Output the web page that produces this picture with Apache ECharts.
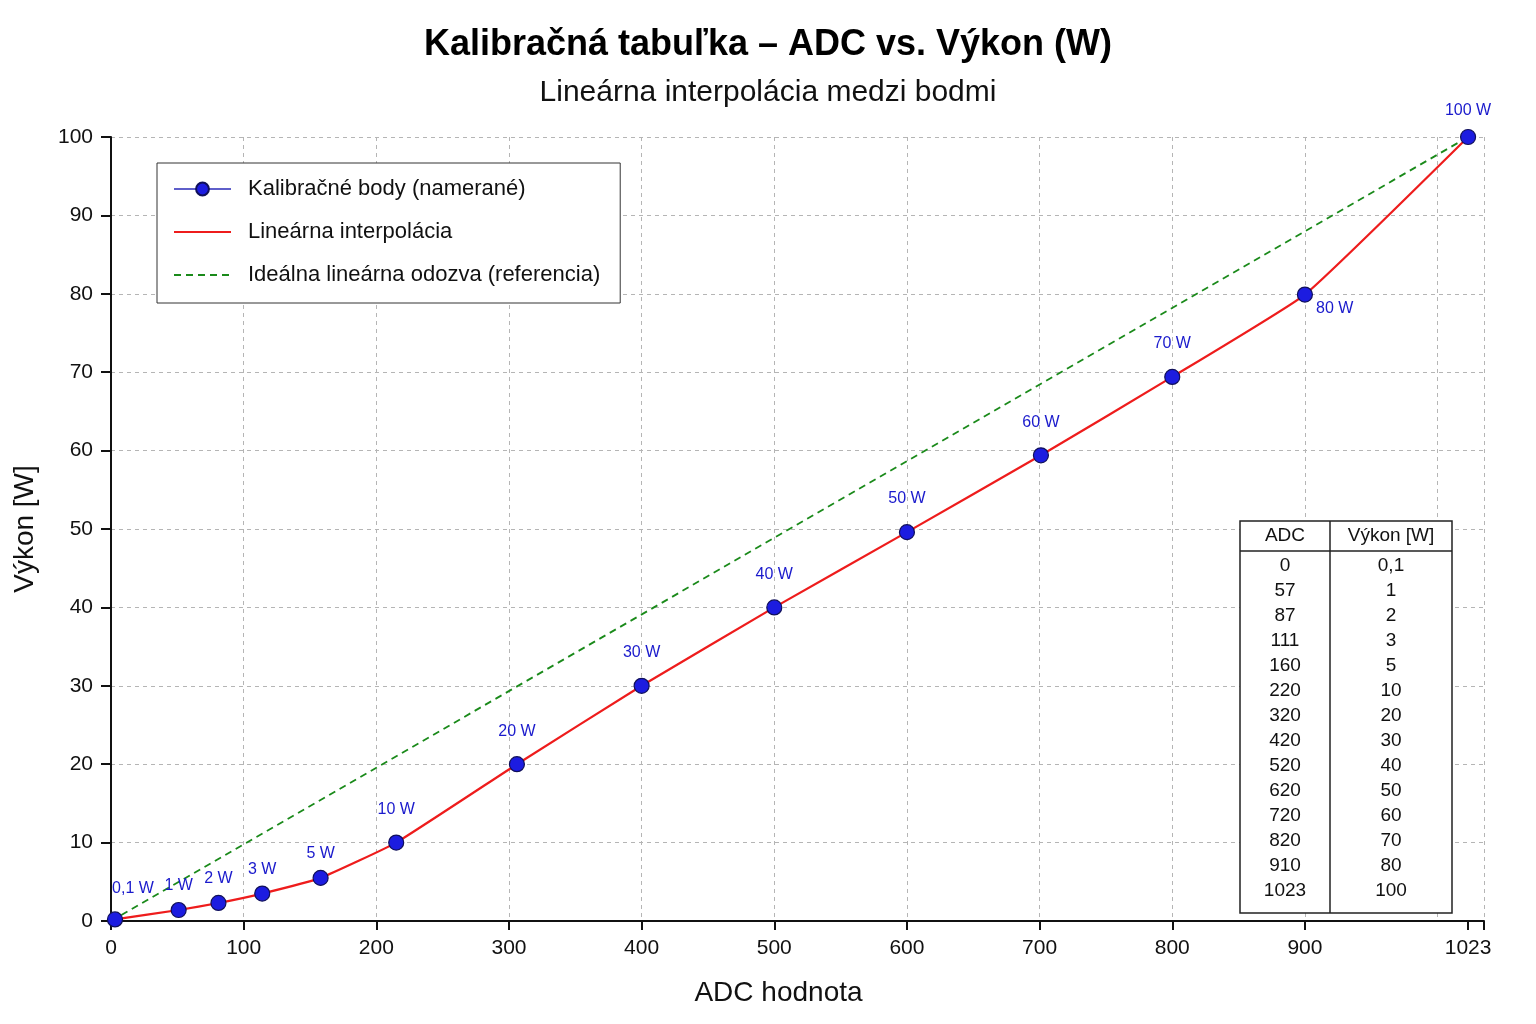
<!DOCTYPE html>
<html>
<head>
<meta charset="utf-8">
<title>Kalibračná tabuľka</title>
<script src="https://cdn.jsdelivr.net/npm/echarts@6/dist/echarts.min.js"></script>
<style>
html, body { margin: 0; padding: 0; background: #fff; }
#chart { width: 1536px; height: 1024px; }
</style>
</head>
<body>
<div id="chart"></div>
<script>
// namerane body (odcitane z grafu)
var adcPoints = [3, 51, 81, 114, 158, 215, 306, 400, 500, 600, 701, 800, 900, 1023];
var powerPoints = [0.2, 1.4, 2.3, 3.5, 5.5, 10, 20, 30, 40, 49.6, 59.4, 69.4, 79.9, 100];

// kalibracna tabulka
var tableAdc = [0, 57, 87, 111, 160, 220, 320, 420, 520, 620, 720, 820, 910, 1023];
var tableW = [0.1, 1, 2, 3, 5, 10, 20, 30, 40, 50, 60, 70, 80, 100];

// idealna odozva
var idealAdc = [0, 1023];
var idealW = [0, 100];

var xLabelValues = [0, 100, 200, 300, 400, 500, 600, 700, 800, 900, 1023];

var FONT = '"Liberation Sans", Arial, sans-serif';

var chart = echarts.init(document.getElementById('chart'));

function fmtW(v) {
	return String(v).replace('.', ',') + ' W';
}

// popisky bodov
function labelFor(i) {
	var lbl = {
		show : true,
		position : 'top',
		color : '#1a1acc',
		fontSize : 16,
		fontFamily : FONT,
		formatter : fmtW(tableW[i])
	};
	if (i == 0) {
		lbl.distance = 15;
		lbl.offset = [ 18, 0 ];
	} else if (i < 5) {
		lbl.distance = 8;
	} else if (i == 12) {
		lbl.position = 'right';
		lbl.distance = 3;
		lbl.offset = [ 0, 14 ];
	} else if (i == 13) {
		lbl.distance = 10;
	} else {
		lbl.distance = 17;
	}
	return lbl;
}

var pointData = [], lineData = [], idealData = [];
for (var i = 0; i < adcPoints.length; i++) {
	pointData.push({
		value : [ adcPoints[i], powerPoints[i] ],
		label : labelFor(i)
	});
	lineData.push([ adcPoints[i], powerPoints[i] ]);
}
for (var j = 0; j < idealAdc.length; j++) {
	idealData.push([ idealAdc[j], idealW[j] ]);
}

// tabulka vpravo dole
var tbl = { left : 1240, top : 521, right : 1452, sep : 1330, headH : 30, rowH : 25 };
var tblBottom = tbl.top + tbl.headH + tableAdc.length * tbl.rowH + 12;
var cellFont = '19px ' + FONT;
var tableEls = [ {
	type : 'rect',
	shape : { x : tbl.left, y : tbl.top, width : tbl.right - tbl.left, height : tblBottom - tbl.top },
	style : { fill : '#fff', stroke : '#222', lineWidth : 1.5 },
	z : 10
}, {
	type : 'line',
	shape : { x1 : tbl.sep, y1 : tbl.top, x2 : tbl.sep, y2 : tblBottom },
	style : { stroke : '#222', lineWidth : 1.5 },
	z : 11
}, {
	type : 'line',
	shape : { x1 : tbl.left, y1 : tbl.top + tbl.headH, x2 : tbl.right, y2 : tbl.top + tbl.headH },
	style : { stroke : '#222', lineWidth : 1.5 },
	z : 11
}, {
	type : 'text',
	x : (tbl.left + tbl.sep) / 2,
	y : tbl.top + tbl.headH / 2,
	style : { text : 'ADC', fill : '#111', font : cellFont, align : 'center', verticalAlign : 'middle' },
	z : 11
}, {
	type : 'text',
	x : (tbl.sep + tbl.right) / 2,
	y : tbl.top + tbl.headH / 2,
	style : { text : 'Výkon [W]', fill : '#111', font : cellFont, align : 'center', verticalAlign : 'middle' },
	z : 11
} ];
for (var k = 0; k < tableAdc.length; k++) {
	var cy = tbl.top + tbl.headH + 15 + k * tbl.rowH;
	tableEls.push({
		type : 'text',
		x : (tbl.left + tbl.sep) / 2,
		y : cy,
		style : { text : String(tableAdc[k]), fill : '#111', font : cellFont, align : 'center', verticalAlign : 'middle' },
		z : 11
	});
	tableEls.push({
		type : 'text',
		x : (tbl.sep + tbl.right) / 2,
		y : cy,
		style : { text : String(tableW[k]).replace('.', ','), fill : '#111', font : cellFont, align : 'center', verticalAlign : 'middle' },
		z : 11
	});
}

var gridLine = {
	show : true,
	lineStyle : { color : '#b5b5b5', width : 1, type : [ 4, 4 ] }
};

chart.setOption({
	backgroundColor : '#fff',
	animation : false,
	textStyle : { fontFamily : FONT },
	title : [ {
		text : 'Kalibračná tabuľka – ADC vs. Výkon (W)',
		left : 'center',
		top : 25,
		padding : 0,
		textStyle : { fontSize : 36, fontWeight : 'bold', color : '#000', fontFamily : FONT, lineHeight : 40 }
	}, {
		text : 'Lineárna interpolácia medzi bodmi',
		left : 'center',
		top : 76,
		padding : 0,
		textStyle : { fontSize : 30, fontWeight : 'normal', color : '#111', fontFamily : FONT, lineHeight : 34 }
	} ],
	legend : {
		left : 157,
		top : 163,
		orient : 'vertical',
		backgroundColor : '#fff',
		borderColor : '#333',
		borderWidth : 1,
		borderRadius : 0,
		padding : [ 14, 20, 16, 16 ],
		itemGap : 19,
		itemWidth : 57,
		itemHeight : 16,
		textStyle : { fontSize : 22, color : '#111', fontFamily : FONT, lineHeight : 24, padding : [ 0, 0, 0, 12 ] },
		data : [ {
			name : 'Kalibračné body (namerané)',
			lineStyle : { color : '#2a2ab8', width : 1.5, opacity : 1 }
		}, {
			name : 'Lineárna interpolácia',
			itemStyle : { opacity : 0 }
		}, {
			name : 'Ideálna lineárna odozva (referencia)',
			itemStyle : { opacity : 0 }
		} ]
	},
	grid : {
		left : 111,
		right : 52,
		top : 137,
		bottom : 103,
		containLabel : false,
		outerBoundsMode : 'none'
	},
	xAxis : [ {
		type : 'value',
		min : 0,
		max : 1035,
		name : 'ADC hodnota',
		nameLocation : 'middle',
		nameGap : 58,
		nameTextStyle : { fontSize : 28, color : '#111', fontFamily : FONT, padding : [ 0, 38, 0, 0 ] },
		axisLine : { show : true, lineStyle : { color : '#111', width : 2 } },
		axisTick : { show : true, length : 9, customValues : [ 0, 100, 200, 300, 400, 500, 600, 700, 800, 900, 1023, 1035 ], lineStyle : { color : '#111', width : 2 } },
		axisLabel : {
			fontSize : 21, color : '#111', margin : 17, fontFamily : FONT, customValues : xLabelValues,
			formatter : function(v) { return String(v); }
		},
		splitLine : { show : false }
	}, {
		type : 'value',
		min : 0,
		max : 1035,
		interval : 100,
		position : 'bottom',
		axisLine : { show : false },
		axisTick : { show : false },
		axisLabel : { show : false },
		splitLine : gridLine
	} ],
	yAxis : {
		type : 'value',
		min : 0,
		max : 100,
		interval : 10,
		name : 'Výkon [W]',
		nameLocation : 'middle',
		nameGap : 72,
		nameTextStyle : { fontSize : 28, color : '#111', fontFamily : FONT },
		axisLine : { show : true, lineStyle : { color : '#111', width : 2 } },
		axisTick : { show : true, length : 10, lineStyle : { color : '#111', width : 2 } },
		axisLabel : { fontSize : 21, color : '#111', margin : 18, fontFamily : FONT },
		splitLine : gridLine
	},
	series : [ {
		name : 'Kalibračné body (namerané)',
		type : 'line',
		xAxisIndex : 0,
		data : pointData,
		symbol : 'circle',
		symbolSize : 15,
		lineStyle : { width : 0, opacity : 0, color : '#2a2ab8' },
		itemStyle : { color : '#1c1ce0', borderColor : '#10105a', borderWidth : 1.2 },
		z : 5
	}, {
		name : 'Lineárna interpolácia',
		type : 'line',
		xAxisIndex : 0,
		data : lineData,
		symbol : 'none',
		smooth : 0.12,
		lineStyle : { color : '#ee1c1c', width : 2.2 },
		itemStyle : { color : '#ee1c1c' },
		z : 4
	}, {
		name : 'Ideálna lineárna odozva (referencia)',
		type : 'line',
		xAxisIndex : 0,
		data : idealData,
		symbol : 'none',
		lineStyle : { color : '#1a8a1a', width : 1.8, type : [ 7, 5 ] },
		itemStyle : { color : '#1a8a1a' },
		z : 3
	} ],
	graphic : tableEls
});
</script>
</body>
</html>
